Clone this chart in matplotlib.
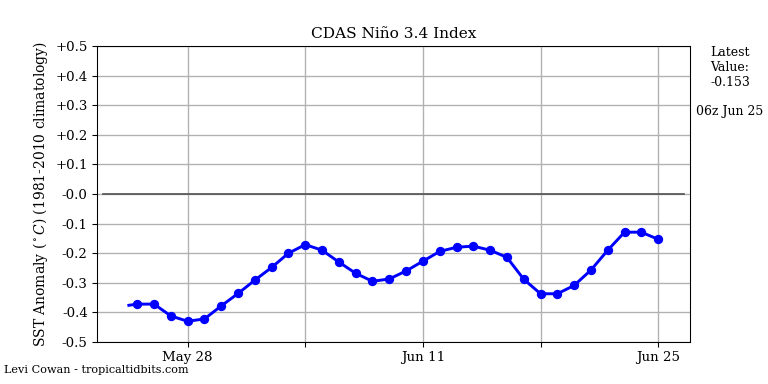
import matplotlib
matplotlib.use('Agg')
import matplotlib.pyplot as plt
import numpy as np
import datetime as dt

plt.rcParams['font.family'] = 'DejaVu Serif'
plt.rcParams['mathtext.fontset'] = 'dejavuserif'

# daily values, May 25 .. Jun 25
start_day = dt.datetime(2025, 5, 25, 6)
anom = [-0.372, -0.372, -0.412, -0.430, -0.422, -0.378, -0.336, -0.291,
        -0.248, -0.200, -0.171, -0.190, -0.230, -0.268, -0.295, -0.287,
        -0.260, -0.227, -0.194, -0.180, -0.176, -0.190, -0.214, -0.288,
        -0.337, -0.337, -0.309, -0.257, -0.190, -0.129, -0.129, -0.153]
# line begins a bit before the first marker
line_start = (dt.datetime(2025, 5, 24, 18), -0.376)

days = [start_day + dt.timedelta(days=i) for i in range(len(anom))]

yticks = [0.5, 0.4, 0.3, 0.2, 0.1, 0.0, -0.1, -0.2, -0.3, -0.4, -0.5]
ylabels = ['+0.5', '+0.4', '+0.3', '+0.2', '+0.1', '-0.0',
           '-0.1', '-0.2', '-0.3', '-0.4', '-0.5']
xticks = [dt.datetime(2025, 5, 28, 6), dt.datetime(2025, 6, 4, 6),
          dt.datetime(2025, 6, 11, 6), dt.datetime(2025, 6, 18, 6),
          dt.datetime(2025, 6, 25, 6)]
xlabels = ['May 28', '', 'Jun 11', '', 'Jun 25']

fig = plt.figure(figsize=(8, 4), dpi=96)
ax = fig.add_axes([97/768, 1-342/384, (690-97)/768, (342-46)/384])

ax.grid(True, color='#b0b0b0', linewidth=1)
ax.set_axisbelow(True)
ax.axhline(0, xmin=0.01, xmax=0.99, color='#555555', linewidth=1.3)

lx = [line_start[0]] + days
ly = [line_start[1]] + anom
ax.plot(lx, ly, color='blue', linewidth=2.2)
ax.plot(days, anom, 'o', color='blue', markersize=6)

ax.set_xlim(dt.datetime(2025, 5, 22, 20, 30), dt.datetime(2025, 6, 27, 3, 30))
ax.set_ylim(-0.5, 0.5)
ax.set_yticks(yticks)
ax.set_yticklabels(ylabels, fontsize=10)
ax.set_xticks(xticks)
ax.set_xticklabels(xlabels, fontsize=10)

ax.set_title('CDAS Niño 3.4 Index', fontsize=11.5)
ax.set_ylabel(r'SST Anomaly ($^\circ C$) (1981-2010 climatology)', fontsize=10.4)

fig.text(730/768, 1-46/384, 'Latest\nValue:\n%.3f' % anom[-1], ha='center', va='top',
         fontsize=9.4, linespacing=1.2)
fig.text(730/768, 1-111/384, '06z Jun 25', ha='center', va='center', fontsize=9.4)
fig.text(4/768, 1-370/384, 'Levi Cowan - tropicaltidbits.com', ha='left', va='center',
         fontsize=8.4)

fig.savefig('out.png', dpi=96)
